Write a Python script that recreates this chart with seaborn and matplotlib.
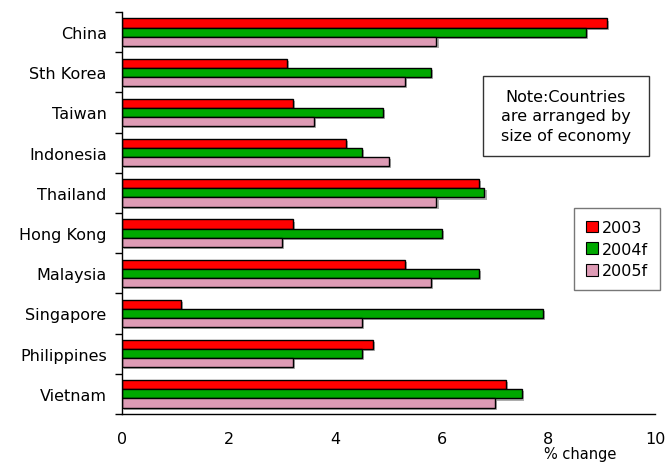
import matplotlib
matplotlib.use("Agg")
import matplotlib.pyplot as plt
import matplotlib.patheffects as pe
from matplotlib.patches import Patch, Rectangle
import pandas as pd
import seaborn as sns

countries = ["China", "Sth Korea", "Taiwan", "Indonesia", "Thailand",
             "Hong Kong", "Malaysia", "Singapore", "Philippines", "Vietnam"]
years = ["2003", "2004f", "2005f"]
growth_2003 = [9.1, 3.1, 3.2, 4.2, 6.7, 3.2, 5.3, 1.1, 4.7, 7.2]
growth_2004f = [8.7, 5.8, 4.9, 4.5, 6.8, 6.0, 6.7, 7.9, 4.5, 7.5]
growth_2005f = [5.9, 5.3, 3.6, 5.0, 5.9, 3.0, 5.8, 4.5, 3.2, 7.0]
colors = ["#FF0000", "#00A800", "#DE9BB5"]

df = pd.DataFrame({
    "country": countries * 3,
    "year": [y for y in years for _ in countries],
    "growth": growth_2003 + growth_2004f + growth_2005f,
})

sns.set_style("white")
plt.rcParams["font.family"] = ["DejaVu Sans"]
plt.rcParams["text.color"] = "black"
plt.rcParams["xtick.color"] = "black"
plt.rcParams["ytick.color"] = "black"

fig = plt.figure(figsize=(6.65, 4.64), dpi=100)
ax = fig.add_axes([0.1835, 0.1056, 0.8015, 0.8664])

sns.barplot(data=df, y="country", x="growth", hue="year", order=countries,
            hue_order=years, palette=colors, orient="h", width=0.68,
            edgecolor="black", linewidth=1.0, saturation=1, ax=ax,
            legend=False, errorbar=None)

shadow = [pe.SimplePatchShadow(offset=(1.5, -1.5), shadow_rgbFace="#777777", alpha=0.6),
          pe.Normal()]
for p in ax.patches:
    p.set_path_effects(shadow)

ax.set_xlim(0, 10)
ax.set_ylim(9.5, -0.5)
ax.set_xticks(range(0, 11, 2))
ax.set_xlabel("")
ax.set_ylabel("")

for side in ["top", "right"]:
    ax.spines[side].set_visible(False)
for side in ["left", "bottom"]:
    ax.spines[side].set_color("black")
    ax.spines[side].set_linewidth(1.0)

ax.tick_params(axis="x", direction="in", length=5, width=1, color="black",
               pad=12, labelsize=11.5, labelcolor="black")
ax.tick_params(axis="y", which="major", length=0, pad=11, labelsize=11.5,
               labelcolor="black")
ax.set_yticks([i - 0.5 for i in range(11)], minor=True)
ax.tick_params(axis="y", which="minor", direction="out", length=5, width=1,
               color="black", left=True)

fig.text(580 / 665, 0.004, "% change", ha="center", va="bottom", fontsize=10.5)

# Note box
fig.add_artist(Rectangle((483 / 665, 1 - 157 / 464), 166 / 665, 80 / 464,
                         transform=fig.transFigure, facecolor="white",
                         edgecolor="#333333", linewidth=1))
fig.text(566 / 665, 1 - 117 / 464,
         "Note:Countries\nare arranged by\nsize of economy",
         ha="center", va="center", fontsize=11.5, linespacing=1.4)

handles = [Patch(facecolor=c, edgecolor="black", linewidth=0.8) for c in colors]
leg = fig.legend(handles, years, loc="upper left",
                 bbox_to_anchor=(574 / 665, 1 - 209 / 464),
                 fontsize=11.5, frameon=True, fancybox=False,
                 handlelength=0.75, handleheight=0.75, handletextpad=0.25,
                 labelspacing=0.42, borderpad=0.75, borderaxespad=0)
leg.get_frame().set_edgecolor("#555555")
leg.get_frame().set_linewidth(1)

fig.savefig("out.png", dpi=100)
